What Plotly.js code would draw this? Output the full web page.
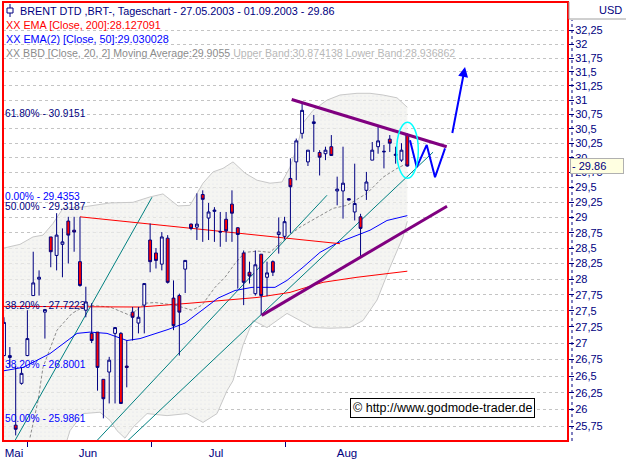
<!DOCTYPE html>
<html><head><meta charset="utf-8">
<script src="https://cdn.plot.ly/plotly-3.0.1.min.js"></script>
<style>html,body{margin:0;padding:0;background:#fff;}#c{width:626px;height:463px;}</style>
</head><body><div id="c"></div>
<script>
// ---- candle data (trading-day index 0..69) ----
const candleOpen  = [26.81,26.78,25.77,26.39,26.81,27.74,28.00,27.48,28.68,28.38,28.56,28.94,28.79,28.28,27.51,27.15,27.17,26.45,26.56,27.15,27.15,26.65,27.48,27.31,27.59,28.63,28.42,28.24,28.66,27.70,27.74,28.16,28.89,28.84,29.38,28.99,29.10,28.77,28.97,29.22,28.83,28.42,28.11,27.77,28.40,28.03,28.28,28.72,28.69,29.65,29.93,30.42,29.93,30.59,30.09,30.07,30.19,29.44,29.44,29.31,29.09,29.01,29.45,29.96,30.19,30.10,30.32,30.04,29.96,30.39];
const candleHigh  = [27.40,26.94,26.65,26.63,27.51,28.44,28.14,27.53,28.68,29.07,28.82,29.01,29.01,29.01,27.88,27.62,27.17,26.45,26.79,27.25,27.17,27.04,27.56,27.56,27.93,28.90,28.50,28.76,28.71,27.98,27.77,28.30,28.90,29.40,29.45,29.24,29.17,29.09,29.09,29.45,28.84,28.46,28.28,28.46,28.40,28.28,28.30,29.00,29.01,29.99,30.33,30.94,30.13,30.74,30.13,30.19,30.39,29.68,30.19,29.32,29.90,29.06,29.76,30.27,30.53,30.22,30.39,30.19,30.25,30.42];
const candleLow   = [26.80,26.63,25.62,26.37,26.80,27.74,27.74,27.07,28.19,28.14,28.03,28.25,28.44,27.88,27.40,27.00,26.28,25.87,26.09,26.09,26.09,26.33,27.04,27.15,27.15,28.11,28.17,28.14,27.93,27.20,26.81,27.78,28.79,28.63,28.60,28.63,28.60,28.52,28.60,28.60,27.85,27.59,27.93,27.74,27.43,27.73,28.05,28.41,28.64,28.74,29.62,30.33,29.86,30.10,29.70,29.96,30.03,29.20,28.98,29.28,28.95,28.36,29.29,29.96,30.07,29.82,30.10,29.90,29.93,29.85];
const candleClose = [27.32,26.81,25.71,26.54,27.07,27.94,28.03,27.52,28.44,28.71,28.60,28.71,28.76,27.90,27.64,27.04,26.63,26.16,26.74,27.24,26.09,26.63,27.40,27.40,27.93,28.28,28.30,28.68,27.95,27.27,27.48,28.30,28.82,28.89,29.30,29.09,29.12,28.76,28.78,29.07,28.72,27.95,28.05,28.23,27.74,28.10,28.11,28.76,28.93,29.51,30.29,30.82,30.13,30.62,30.01,30.13,30.04,29.47,29.57,29.29,29.23,28.82,29.59,30.13,30.29,30.11,30.25,30.06,30.13,29.86];
const candleX = candleOpen.map((_, i) => i);

// ---- indicators ----
const bbUpperX = [0,2.74,4.96,6.67,8.38,10.09,13.34,18.14,22.07,24.98,27.2,29.77,31.82,34.05,35.76,37.47,39.18,41.23,43.29,45.51,47.56,48.93,50.13,51.16,52.87,55.26,57.49,60.39,62.62,64.84,67.24,69];
const bbUpper  = [28.50,28.56,28.68,28.71,28.90,29.15,29.17,29.24,29.25,29.34,29.39,29.19,29.20,29.57,29.76,29.82,29.93,29.74,29.62,29.57,29.59,29.84,30.18,30.60,30.82,31.00,31.09,31.12,31.12,31.09,31.04,30.874];
const bbLowerX = [0,4.45,9.58,10.78,11.29,13.52,16.42,18.14,19.33,20.7,22.07,24.47,27.89,31.31,34.05,36.44,38.15,39.18,40.89,42.6,45.0,48.42,50.64,52.87,55.77,59.2,61.42,63.82,66.04,68.26,69];
const bbLower  = [25.25,25.25,25.47,25.55,25.69,25.94,25.96,25.84,25.69,25.58,25.74,25.94,25.91,25.94,25.81,25.94,26.28,26.43,26.97,27.35,27.24,27.46,27.35,27.24,27.23,27.24,27.35,27.67,28.19,28.68,28.937];
const bbMidX = [4.45,5.82,6.67,9.07,11.63,14.2,18.14,21.56,24.12,25.83,29.26,32.16,33.88,36.1,37.81,39.52,41.23,43.46,45.51,48.42,50.64,53.55,56.29,58.68,62.1,64.84,67.24,69];
const bbMid  = [25.59,26.13,26.63,27.20,27.46,27.59,27.56,27.43,27.62,27.63,27.59,27.51,27.59,27.87,28.03,28.25,28.43,28.45,28.43,28.68,28.84,29.00,29.15,29.20,29.40,29.67,29.82,29.9055];
const ema200X = [0,11.29,23.27,31.82,43.29,48.93,54.58,60.39,69];
const ema200  = [27.57,27.57,27.56,27.62,27.71,27.79,27.95,28.03,28.127];
const ema50X = [0,3.25,7.87,12.49,14.71,17.62,21.04,23.27,28.06,30.97,33.88,36.61,39.52,42.43,46.36,48.42,51.16,54.06,56.97,59.71,62.62,65.53,69];
const ema50  = [26.58,26.63,26.84,27.15,27.17,27.15,27.04,27.07,27.21,27.31,27.51,27.70,27.82,27.87,27.87,27.98,28.19,28.43,28.58,28.68,28.79,28.95,29.03];

// ---- drawn lines ----
const channelAX = [1.88,25.32],  channelAY = [25.546,29.335];
const channelBX = [15.91,55.26], channelBY = [25.546,29.368];
const channelCX = [21.21,73.4],  channelCY = [25.546,30.096];
const purpleTopX = [49.22,75.74], purpleTopY = [31.01,30.19];
const purpleBotX = [44.09,75.79], purpleBotY = [27.43,29.185];
const redDiagX = [13.0,57.49], redDiagY = [29.01,28.57];
const zigzagX = [69.46,70.61,72.32,73.74,75.45];
const zigzagY = [30.30,29.84,30.22,29.67,30.16];
const arrowX = [76.65,78.87], arrowY = [30.40,31.59];
const ellipseX = [67.18,70.88], ellipseY = [29.654,30.614];
const redLineLevels = [30.405,31.39,29.185];
const redLineStart  = [null,69.46,13.86];
const fibLevels = [30.9151,29.4353,29.3187,27.7223,26.8001,25.9861];
const fibLabels = ['61.80% - 30.9151','0.00% - 29.4353','50.00% - 29.3187','38.20% - 27.7223','38.20% - 26.8001','50.00% - 25.9861'];
const fibSet = ['A','B','A','A','B','B'];

// ---- axes ----
const yTickVals = [25.75,26,26.25,26.5,26.75,27,27.25,27.5,27.75,28,28.25,28.5,28.75,29,29.25,29.5,29.75,30,30.25,30.5,30.75,31,31.25,31.5,31.75,32,32.25];
const yTickLabels = ['25,75','26','26,25','26,5','26,75','27','27,25','27,5','27,75','28','28,25','28,5','28,75','29','29,25','29,5','29,75','30','30,25','30,5','30,75','31','31,25','31,5','31,75','32','32,25'];
const monthLabels = ['Mai','Jun','Jul','Aug'];
const monthPos = [1.71,14.37,36.27,58.68];
const minorTickPos = [4.1,25.15,48.08];
const lastPrice = 29.86;

const L = Math.log10;
const X_MIN = -0.171, X_MAX = 96.49;
const Y_RANGE = [L(25.539), L(32.778)];
const NAVY = '#000080', BLUE = '#0000FF', RED = '#FF0000', TEAL = '#008080', PURPLE = '#800080';
const FONT = 'Liberation Sans, Arial, sans-serif';
const px2x = px => (px - 3) / 565;
const py2y = py => (441 - py) / 439;
const dx2paper = x => (x - X_MIN) / (X_MAX - X_MIN);
const dy2paper = v => (L(v) - Y_RANGE[0]) / (Y_RANGE[1] - Y_RANGE[0]);

const line = (x, y, color, width, dash, yaxis) => ({type:'scatter', mode:'lines', x, y, yaxis: yaxis || 'y', hoverinfo:'skip', showlegend:false, line:{color, width, dash: dash || 'solid'}});

const traces = [
  {type:'scatter', mode:'lines', x: bbUpperX.concat(bbLowerX.slice().reverse()), y: bbUpper.concat(bbLower.slice().reverse()),
   fill:'toself', fillcolor:'rgba(240,240,234,0.6)', line:{width:0}, hoverinfo:'skip', showlegend:false,
   fillpattern:{shape:'.', bgcolor:'rgba(242,242,237,0.7)', fgcolor:'#DADCE8', size:4, solidity:0.06}},
  line(bbUpperX, bbUpper, '#C8C8C8', 1),
  line(bbLowerX, bbLower, '#C8C8C8', 1),
  line(bbMidX, bbMid, '#8C8C8C', 1, '3px,2px'),
  line(channelAX, channelAY, TEAL, 1),
  line(channelBX, channelBY, TEAL, 1),
  line(channelCX, channelCY, TEAL, 1),
  line(ema200X, ema200, RED, 1),
  line(ema50X, ema50, BLUE, 1),
  line(redDiagX, redDiagY, RED, 1),
  {type:'candlestick', x:candleX, open:candleOpen, high:candleHigh, low:candleLow, close:candleClose, yaxis:'y2',
   hoverinfo:'skip', showlegend:false, whiskerwidth:0,
   increasing:{line:{color:NAVY, width:1}, fillcolor:'#FFFFFF'},
   decreasing:{line:{color:NAVY, width:1}, fillcolor:RED}},
  line(purpleTopX, purpleTopY, PURPLE, 3, null, 'y2'),
  line(purpleBotX, purpleBotY, PURPLE, 3, null, 'y2'),
  line(zigzagX, zigzagY, BLUE, 2, null, 'y2')
];

const shapes = [];
fibLevels.forEach((v, i) => {
  shapes.push({type:'line', xref:'paper', yref:'y', x0:0, x1:1, y0:L(v), y1:L(v),
    line:{color: fibSet[i]==='A' ? NAVY : BLUE, width:1, dash: fibSet[i]==='A' ? '12px,8px' : '4px,3px'}});
});
redLineLevels.forEach((v, i) => {
  const s = redLineStart[i];
  shapes.push({type:'line', xref: s===null ? 'paper' : 'x', yref:'y', x0: s===null ? 0 : s, x1: s===null ? 1 : X_MAX,
    y0:L(v), y1:L(v), line:{color:RED, width: i===2 ? 3 : 1}});
});
shapes.push({type:'circle', xref:'paper', yref:'paper', x0:dx2paper(ellipseX[0]), x1:dx2paper(ellipseX[1]),
  y0:dy2paper(ellipseY[0]), y1:dy2paper(ellipseY[1]), line:{color:'#00FFFF', width:1.5}});
shapes.push({type:'rect', xref:'paper', yref:'paper', x0:0, x1:1, y0:0, y1:1, line:{color:RED, width:2}});
shapes.push({type:'line', xref:'paper', yref:'paper', x0:px2x(572), x1:px2x(572), y0:0, y1:py2y(20), line:{color:NAVY, width:1, dash:'dot'}});
shapes.push({type:'line', xref:'paper', yref:'paper', x0:px2x(569), x1:px2x(626), y0:py2y(19), y1:py2y(19), line:{color:'#A0A0A0', width:1}});
shapes.push({type:'line', xref:'paper', yref:'paper', x0:px2x(569), x1:px2x(569), y0:py2y(2), y1:py2y(19), line:{color:'#A0A0A0', width:1}});
shapes.push({type:'line', xref:'paper', yref:'paper', x0:px2x(10), x1:px2x(10), y0:py2y(4), y1:py2y(17), line:{color:NAVY, width:1}});
shapes.push({type:'rect', xref:'paper', yref:'paper', x0:px2x(7), x1:px2x(13), y0:py2y(13), y1:py2y(8), line:{color:NAVY, width:1}, fillcolor:'#FFFFFF'});

const ann = [];
const txt = (x, y, text, color, size) => ({xref:'paper', yref:'paper', x, y, text, showarrow:false, xanchor:'left', yanchor:'middle', font:{family:FONT, size, color}});
ann.push(txt(px2x(18), py2y(10.7), 'BRENT DTD ,BRT-, Tageschart - 27.05.2003 - 01.09.2003 - 29.86', NAVY, 10.8));
ann.push(txt(px2x(4), py2y(25), 'XX EMA [Close, 200]:28.127091', RED, 10.8));
ann.push(txt(px2x(4), py2y(39), 'XX EMA(2) [Close, 50]:29.030028', BLUE, 10.8));
ann.push(txt(px2x(4), py2y(52.7), '<span style="color:#8C8C8C">XX BBD [Close, 20, 2] Moving Average:29.9055</span> <span style="color:#B8B8B8">Upper Band:30.874138 Lower Band:28.936862</span>', '#8C8C8C', 10.6));
fibLevels.forEach((v, i) => {
  ann.push({xref:'paper', yref:'y', x:px2x(4), y:L(v), yanchor:'top', xanchor:'left', yshift: i===1 ? 1 : -2, showarrow:false, borderpad:0,
    text:fibLabels[i], font:{family:FONT, size:10.2, color: fibSet[i]==='A' ? NAVY : BLUE}});
});
ann.push(txt(px2x(597), py2y(10), 'USD', NAVY, 11));
ann.push({xref:'paper', yref:'y', x:px2x(570), y:L(lastPrice), xanchor:'left', yanchor:'middle', showarrow:false,
  text:'- ' + lastPrice.toFixed(2), align:'left', width:50, bgcolor:'#FFFFE1', bordercolor:'#B0B0B0', borderwidth:1, borderpad:1,
  font:{family:FONT, size:11, color:NAVY}});
ann.push({xref:'paper', yref:'paper', x:px2x(442.5), y:py2y(408), xanchor:'center', yanchor:'middle', showarrow:false,
  text:'© http://www.godmode-trader.de', bgcolor:'#FFFFFF', bordercolor:'#000000', borderwidth:1, borderpad:2,
  font:{family:FONT, size:12.5, color:'#000000'}});
ann.push({xref:'x', yref:'y', axref:'x', ayref:'y', x:arrowX[1], y:L(arrowY[1]), ax:arrowX[0], ay:L(arrowY[0]),
  showarrow:true, arrowhead:2, arrowsize:1, arrowwidth:2, arrowcolor:BLUE, text:''});

const layout = {
  width:626, height:463, margin:{l:3, r:58, t:2, b:22, pad:0},
  paper_bgcolor:'#FFFFFF', plot_bgcolor:'#FFFFFF', showlegend:false,
  xaxis:{range:[X_MIN, X_MAX], showgrid:false, zeroline:false, rangeslider:{visible:false},
    tickmode:'array', tickvals:monthPos, ticktext:monthLabels, ticks:'', ticklabelstandoff:3,
    tickfont:{family:FONT, size:11.5, color:NAVY},
    minor:{tickmode:'array', tickvals:minorTickPos, ticks:'outside', ticklen:5, tickcolor:NAVY, tickwidth:1, showgrid:false}},
  yaxis:{type:'log', side:'right', range:Y_RANGE, tickmode:'array', tickvals:yTickVals,
    ticktext:yTickLabels, ticks:'outside', ticklen:5, tickcolor:NAVY, tickwidth:1, ticklabelstandoff:-1,
    showgrid:true, gridcolor:'#C4C4C4', griddash:'dot', gridwidth:1, zeroline:false,
    tickfont:{family:FONT, size:11, color:NAVY}},
  yaxis2:{type:'log', overlaying:'y', side:'right', range:Y_RANGE, visible:false, showgrid:false, zeroline:false},
  shapes, annotations:ann
};
Plotly.newPlot('c', traces, layout, {staticPlot:true, displayModeBar:false});
</script>
</body></html>
